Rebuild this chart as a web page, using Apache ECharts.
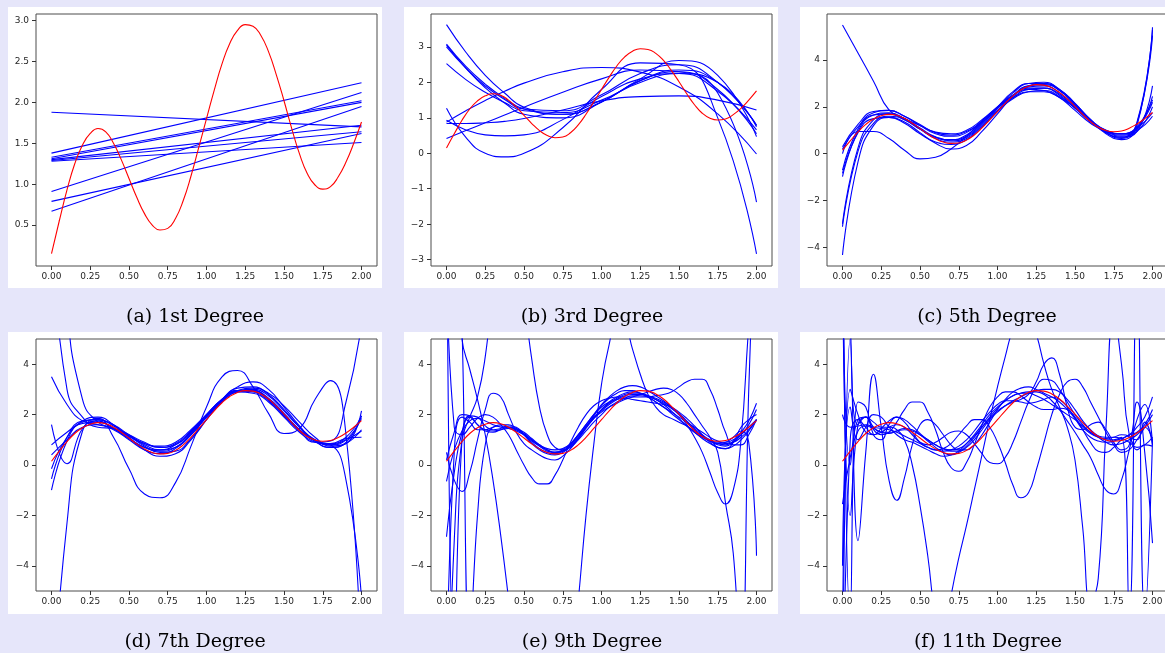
<!DOCTYPE html>
<html><head><meta charset="utf-8">
<script src="https://cdn.jsdelivr.net/npm/echarts@6/dist/echarts.min.js"></script>
<style>html,body{margin:0;padding:0;background:#e6e6fa}#c{width:1165px;height:653px}</style>
</head><body><div id="c"></div>
<script>
// ---------- data ----------
const captions = ['(a) 1st Degree','(b) 3rd Degree','(c) 5th Degree','(d) 7th Degree','(e) 9th Degree','(f) 11th Degree'];
const xTicks = [0,0.25,0.5,0.75,1,1.25,1.5,1.75,2];
const yTicksA = [0.5,1,1.5,2,2.5,3];
const yTicksB = [-3,-2,-1,0,1,2,3];
const yTicksC = [-4,-2,0,2,4];
const yTicksDEF = [-4,-2,0,2,4];

// true function (red)
const xRed = [0,0.05,0.1,0.15,0.2,0.25,0.3,0.35,0.4,0.45,0.5,0.55,0.6,0.65,0.7,0.75,0.8,0.85,0.9,0.95,1,1.05,1.1,1.15,1.2,1.25,1.3,1.35,1.4,1.45,1.5,1.55,1.6,1.65,1.7,1.75,1.8,1.85,1.9,1.95,2];
const red = [0.15,0.55,0.93,1.25,1.48,1.62,1.68,1.64,1.5,1.3,1.07,0.84,0.64,0.5,0.44,0.46,0.58,0.8,1.1,1.45,1.8,2.15,2.47,2.72,2.88,2.95,2.93,2.82,2.62,2.34,2.02,1.68,1.37,1.13,0.99,0.94,0.97,1.09,1.27,1.5,1.76];

// (a) 1st degree fits: values at x=0 and x=2
const xA = [0,2];
const fitsA = [[1.88,1.70],[1.38,2.24],[0.91,2.12],[0.79,1.62],[0.67,1.95],[1.33,2.02],[1.31,2.00],[1.30,1.72],[1.29,1.64],[1.28,1.51]];

// (b) 3rd degree fits
const xB = [0,0.125,0.25,0.375,0.5,0.75,1,1.25,1.5,1.75,2];
const fitsB = [
 [1.27,0.45,0.0,-0.1,0.0,0.72,1.8,2.55,2.5,1.0,-2.84],
 [0.88,1.2,1.49,1.75,1.98,2.30,2.42,2.29,1.87,1.11,-0.02],
 [0.84,0.84,0.86,0.9,0.98,1.22,1.48,1.6,1.62,1.5,1.22],
 [0.93,0.66,0.52,0.49,0.52,0.95,1.6,2.1,2.25,1.75,0.66],
 [0.42,0.64,0.86,1.08,1.3,1.72,2.1,2.35,2.3,1.7,-1.38],
 [3.63,2.85,2.2,1.7,1.3,1.1,1.45,2.1,2.62,2.2,0.47],
 [3.08,2.45,1.95,1.55,1.25,1.1,1.45,2.05,2.35,2.0,0.78],
 [3.05,2.4,1.85,1.42,1.1,1.0,1.45,2.05,2.3,1.8,0.55],
 [3.0,2.4,1.9,1.52,1.25,1.2,1.65,2.25,2.5,2.0,0.8],
 [2.53,2.08,1.72,1.43,1.2,1.15,1.5,2.0,2.25,2.0,0.75]
];

// (c) 5th and (d) 7th degree fits
const xCD = [0,0.1,0.2,0.3,0.4,0.5,0.6,0.7,0.8,0.9,1,1.1,1.2,1.3,1.4,1.5,1.6,1.7,1.8,1.9,2];
const fitsC = [
 [5.5,4.3,3.1,1.87,1.5,1.2,0.9,0.8,0.95,1.35,1.85,2.35,2.65,2.7,2.45,1.95,1.4,1.0,0.85,1.0,1.6],
 [0.3,1.25,1.8,1.85,1.6,1.25,0.92,0.85,1.0,1.45,2.0,2.5,2.8,2.8,2.5,1.95,1.35,0.95,0.85,1.15,2.3],
 [0.2,1.15,1.65,1.7,1.45,1.05,0.7,0.6,0.8,1.35,1.95,2.5,2.85,2.9,2.6,2.05,1.45,1.0,0.85,1.1,2.2],
 [0.0,0.95,0.95,0.65,0.15,-0.22,-0.15,0.2,0.75,1.4,1.95,2.4,2.65,2.65,2.4,1.95,1.4,0.95,0.75,0.95,2.0],
 [-0.84,0.9,1.5,1.55,1.3,0.85,0.5,0.4,0.6,1.15,1.8,2.4,2.75,2.8,2.55,2.0,1.4,0.95,0.8,1.05,2.45],
 [-0.98,0.95,1.65,1.75,1.5,1.05,0.65,0.5,0.65,1.2,1.85,2.5,2.9,2.95,2.7,2.1,1.45,0.9,0.7,0.95,2.9],
 [-3.12,0.1,1.3,1.6,1.45,1.05,0.7,0.55,0.7,1.25,1.95,2.6,3.0,3.05,2.75,2.15,1.45,0.9,0.65,1.3,5.05],
 [-3.0,0.25,1.45,1.7,1.5,1.1,0.72,0.6,0.75,1.3,2.0,2.65,3.0,3.0,2.7,2.1,1.4,0.9,0.7,1.35,5.3],
 [-4.33,-0.35,1.2,1.55,1.35,0.9,0.45,0.2,0.35,0.95,1.7,2.45,2.9,3.0,2.75,2.15,1.45,0.85,0.6,1.2,5.4],
 [-0.7,1.05,1.75,1.85,1.6,1.2,0.85,0.75,0.9,1.4,2.0,2.5,2.75,2.7,2.4,1.85,1.3,0.95,0.85,1.1,1.75]
];
const fitsD = [
 [3.5,2.4,1.75,1.6,1.45,1.15,0.8,0.6,0.7,1.2,1.9,2.55,2.95,2.95,2.6,2.0,1.4,1.0,0.85,1.1,1.95],
 [1.6,0.05,1.45,1.85,1.1,-0.15,-1.15,-1.3,-0.7,0.75,2.3,3.5,3.75,3.1,2.05,1.25,1.45,2.6,3.35,1.2,-8],
 [0.8,1.3,1.7,1.8,1.6,1.2,0.85,0.75,0.9,1.4,2.0,2.55,2.9,2.95,2.65,2.05,1.4,0.95,0.8,1.0,1.35],
 [0.4,1.0,1.5,1.6,1.4,1.0,0.6,0.45,0.65,1.2,1.9,2.55,2.95,3.0,2.75,2.15,1.5,1.0,0.8,1.0,1.85],
 [-0.15,1.1,1.65,1.7,1.45,1.05,0.7,0.55,0.7,1.25,1.95,2.6,3.05,3.1,2.8,2.2,1.5,0.95,0.7,0.9,1.95],
 [-0.55,1.1,1.75,1.8,1.55,1.15,0.75,0.5,0.55,1.05,1.8,2.5,2.95,3.05,2.85,2.35,1.7,1.1,0.75,0.85,2.15],
 [-1.0,0.95,1.75,1.9,1.6,1.1,0.6,0.35,0.45,1.0,1.8,2.6,3.1,3.3,3.0,2.3,1.55,0.95,0.7,0.85,1.4],
 [9,3.0,1.9,1.5,1.45,1.2,0.9,0.7,0.8,1.3,1.95,2.6,2.95,2.95,2.6,2.0,1.4,0.95,0.85,1.05,1.1],
 [20,6.5,2.6,1.7,1.45,1.15,0.85,0.7,0.85,1.35,2.0,2.6,2.9,2.85,2.5,1.9,1.3,0.9,0.8,-0.6,-5.3],
 [-10,-2.3,1.35,1.75,1.45,1.05,0.7,0.6,0.8,1.3,2.0,2.6,2.95,2.9,2.55,1.95,1.35,0.9,0.95,2.5,5.6]
];

// (e) 9th and (f) 11th degree fits
const xEF = [0,0.05,0.1,0.15,0.2,0.25,0.3,0.35,0.4,0.45,0.5,0.55,0.6,0.65,0.7,0.75,0.8,0.85,0.9,0.95,1,1.05,1.1,1.15,1.2,1.25,1.3,1.35,1.4,1.45,1.5,1.55,1.6,1.65,1.7,1.75,1.8,1.85,1.9,1.95,2];
const fitsE = [
 [-2.85,-0.3,1.3,1.95,1.9,1.55,1.4,1.45,1.55,1.5,1.2,0.85,0.6,0.45,0.4,0.5,0.75,1.1,1.5,1.85,2.15,2.4,2.6,2.75,2.8,2.8,2.75,2.65,2.5,2.3,2.05,1.75,1.45,1.2,1.0,0.9,0.9,1.0,1.2,1.5,1.8],
 [-0.65,0.6,1.35,1.75,1.85,1.75,1.6,1.5,1.45,1.35,1.2,1.0,0.8,0.65,0.6,0.65,0.85,1.2,1.55,1.9,2.2,2.45,2.65,2.8,2.85,2.85,2.75,2.6,2.4,2.15,1.85,1.55,1.3,1.1,0.95,0.85,0.8,0.95,1.3,1.75,2.45],
 [12,-8,1.0,1.9,1.6,1.35,1.3,1.4,1.5,1.45,1.3,1.05,0.8,0.6,0.5,0.55,0.75,1.05,1.45,1.85,2.2,2.5,2.7,2.85,2.9,2.85,2.7,2.5,2.3,2.1,1.9,1.7,1.5,1.3,1.1,0.95,0.85,0.9,1.1,1.4,1.8],
 [20,10,5,3.8,2.6,1.2,-0.6,-2.8,-5.3,-8,-10.5,-12,-13,-13,-12,-10.5,-8.5,-5.4,-2.0,0.8,3.2,4.8,5.8,5.6,4.6,3.6,2.8,2.3,2.0,1.85,1.7,1.55,1.35,1.15,0.95,0.8,0.75,0.9,1.2,1.6,2.2],
 [-12,-3,1.0,1.9,2.7,4.3,7,9,9.5,8.5,6.5,4.2,2.3,1.2,0.7,0.6,0.8,1.2,1.6,2.0,2.3,2.5,2.6,2.65,2.6,2.55,2.5,2.45,2.4,2.3,2.1,1.85,1.55,1.2,0.9,0.7,0.65,0.9,1.5,1.8,2.0],
 [8,1.5,1.2,1.5,1.85,2.0,1.9,1.6,1.2,0.6,0.0,-0.5,-0.75,-0.75,-0.4,0.2,0.9,1.5,2.0,2.35,2.55,2.65,2.7,2.7,2.7,2.7,2.7,2.75,2.8,2.9,3.1,3.3,3.4,3.4,3.0,2.2,1.3,0.8,0.8,1.2,1.8],
 [0.5,-0.6,-1.05,-0.3,1.0,2.2,2.85,2.7,2.0,1.3,0.85,0.6,0.4,0.25,0.2,0.35,0.65,1.05,1.5,1.95,2.35,2.65,2.85,2.95,2.95,2.85,2.7,2.5,2.3,2.05,1.8,1.55,1.3,1.05,0.85,0.7,0.65,0.75,1.0,1.35,1.8],
 [30,15,5.5,-7,-2,0.8,1.5,1.55,1.5,1.4,1.2,0.95,0.75,0.6,0.5,0.55,0.7,1.0,1.35,1.7,2.0,2.3,2.5,2.65,2.75,2.75,2.7,2.6,2.45,2.25,2.0,1.7,1.4,1.15,0.95,0.85,0.9,1.1,1.35,0.9,-3.6],
 [-9,0.5,1.9,1.7,1.4,1.4,1.5,1.6,1.6,1.45,1.2,0.9,0.65,0.5,0.45,0.55,0.8,1.15,1.5,1.85,2.1,2.3,2.45,2.6,2.7,2.8,2.9,3.0,3.05,3.0,2.8,2.45,2.0,1.55,1.1,0.5,-1.5,-3.5,-8,3,12],
 [0.2,1.3,2.0,1.95,1.6,1.4,1.35,1.4,1.45,1.4,1.25,1.0,0.75,0.55,0.5,0.6,0.85,1.2,1.6,2.0,2.4,2.7,2.95,3.1,3.15,3.1,2.95,2.75,2.55,2.3,2.0,1.6,1.1,0.5,-0.3,-1.1,-1.55,-1.0,1.0,5.5,9]
];
const fitsF = [
 [-1.55,0.3,1.35,1.55,1.45,1.3,1.25,1.35,1.45,1.4,1.2,0.95,0.7,0.5,0.4,0.5,0.75,1.1,1.5,1.9,2.25,2.55,2.75,2.85,2.85,2.75,2.6,2.4,2.2,2.0,1.8,1.55,1.3,1.1,0.9,0.8,0.85,1.0,1.2,1.5,1.0],
 [12,-6,2.5,2.3,1.2,1.0,1.6,1.9,1.7,1.3,0.9,0.7,0.6,0.55,0.6,0.75,1.0,1.35,1.75,2.1,2.4,2.55,2.55,2.5,2.45,2.5,2.6,2.7,2.6,2.3,1.85,1.4,1.1,0.95,0.9,0.95,1.05,1.2,1.5,1.9,2.7],
 [-10,5,-3,0.5,3.6,1.5,-0.6,-1.4,-0.5,0.8,1.6,1.8,1.6,1.2,0.8,0.6,0.6,0.8,1.2,1.7,2.2,2.6,2.9,3.05,3.1,3.0,2.85,2.7,2.5,2.2,1.85,1.5,1.25,1.1,1.05,1.1,1.2,1.1,0.6,0.8,0.75],
 [8,-2,1.6,1.9,1.4,1.2,1.3,1.7,2.2,2.5,2.5,2.1,1.4,0.5,-0.1,-0.25,0.1,0.8,1.6,2.3,2.7,2.9,2.9,2.75,2.5,2.3,2.2,2.2,2.25,2.2,1.9,1.4,0.9,0.55,0.5,0.7,1.0,1.2,1.3,1.6,2.2],
 [-12,1,1.8,1.5,1.2,1.3,1.5,1.6,1.5,1.2,0.9,0.8,0.9,1.1,1.3,1.35,1.2,0.85,0.45,0.1,0.05,0.3,0.9,1.7,2.5,3.1,3.4,3.35,3.0,2.5,2.0,1.6,1.3,1.15,1.1,1.1,1.05,0.9,0.7,0.8,1.1],
 [2,1.5,1.55,1.6,1.5,1.45,1.4,1.3,1.15,1.0,0.85,0.7,0.6,0.65,0.85,1.2,1.55,1.8,1.8,1.5,0.9,0.1,-0.8,-1.3,-1.1,-0.2,0.9,2.0,2.8,3.3,3.4,3.1,2.5,1.9,1.3,0.8,0.5,0.6,1.0,1.5,2.0],
 [20,6,1.6,1.9,1.7,1.5,1.5,1.4,1.0,0.0,-1.6,-3.6,-6,-7,-5.2,-3.7,-2.4,-1.0,0.4,1.8,3.1,4.3,5.4,6.0,6.0,5.2,4.0,3.0,2.3,1.5,0.2,-2.5,-5.5,-4.5,1.5,6,4,1.2,1.0,1.7,0.8],
 [-8,3,2.0,1.3,1.2,1.45,1.75,1.9,1.8,1.55,1.25,1.0,0.8,0.65,0.6,0.65,0.85,1.15,1.5,1.85,2.15,2.35,2.5,2.6,2.8,3.3,4.0,4.25,3.6,2.3,1.5,1.4,1.6,1.7,1.4,0.9,0.6,0.8,2.5,0.5,-3.1],
 [-4,2.3,1.0,1.5,2.0,1.9,1.5,1.2,1.0,0.9,0.75,0.6,0.45,0.35,0.4,0.55,0.85,1.2,1.6,2.0,2.3,2.55,2.75,2.85,2.9,2.9,2.8,2.55,2.2,1.75,1.3,0.8,0.3,-0.4,-1.0,-1.15,-0.6,0.6,1.8,2.4,0.8],
 [9,0,1.8,1.9,1.5,1.3,1.3,1.35,1.4,1.35,1.2,1.0,0.8,0.65,0.55,0.55,0.7,1.0,1.4,1.8,2.1,2.35,2.55,2.7,2.85,2.95,3.0,3.0,2.9,2.6,2.2,1.75,1.4,1.15,1.0,1.0,1.1,-6,8,-6,1.0]
];

// ---------- layout ----------
const panels = [
  {left:36,  top:14,  yMin:0.0,   yMax:3.08, ticks:yTicksA,  dec:1, xs:xA,  fits:fitsA, smooth:false},
  {left:431, top:14,  yMin:-3.18, yMax:3.93, ticks:yTicksB,  dec:0, xs:xB,  fits:fitsB, smooth:true},
  {left:827, top:14,  yMin:-4.8,  yMax:5.97, ticks:yTicksC,  dec:0, xs:xCD, fits:fitsC, smooth:true},
  {left:36,  top:339, yMin:-5,    yMax:5,    ticks:yTicksDEF,dec:0, xs:xCD, fits:fitsD, smooth:true},
  {left:431, top:339, yMin:-5,    yMax:5,    ticks:yTicksDEF,dec:0, xs:xEF, fits:fitsE, smooth:true},
  {left:827, top:339, yMin:-5,    yMax:5,    ticks:yTicksDEF,dec:0, xs:xEF, fits:fitsF, smooth:true}
];
const whiteBoxes = [[8,7,374,281],[404,7,374,281],[800,7,370,281],[8,332,374,282],[404,332,374,282],[800,332,370,282]];
const capPos = [[195,317],[592,317],[987,317],[195,642],[592,642],[988,642]];

const fmtNum = (v, dec) => (dec ? v.toFixed(dec) : String(Math.round(v))).replace('-', '\u2212');
const labelStyle = {fontSize:9, color:'#262626', fontFamily:'DejaVu Sans'};

const grids = [], xAxes = [], yAxes = [], series = [];
panels.forEach((p, i) => {
  grids.push({left:p.left, top:p.top, width:341, height:252, show:true, borderColor:'#4d4d4d', borderWidth:1,
              backgroundColor:'transparent', containLabel:false, outerBoundsMode:'none'});
  xAxes.push({gridIndex:i, type:'value', min:-0.1, max:2.1, position:'bottom',
    axisLine:{show:false, onZero:false}, splitLine:{show:false},
    axisTick:{show:true, inside:false, length:4, lineStyle:{color:'#333'}, customValues:xTicks},
    axisLabel:Object.assign({show:true, margin:6, customValues:xTicks, formatter:v=>v.toFixed(2)}, labelStyle)});
  yAxes.push({gridIndex:i, type:'value', min:p.yMin, max:p.yMax, position:'left',
    axisLine:{show:false, onZero:false}, splitLine:{show:false},
    axisTick:{show:true, inside:false, length:4, lineStyle:{color:'#333'}, customValues:p.ticks},
    axisLabel:Object.assign({show:true, margin:7, customValues:p.ticks, formatter:v=>fmtNum(v, p.dec)}, labelStyle)});
  p.fits.forEach(ys => {
    series.push({type:'line', xAxisIndex:i, yAxisIndex:i, data:p.xs.map((x,k)=>[x, ys[k]]),
      showSymbol:false, symbol:'none', smooth:p.smooth, clip:true, silent:true, animation:false, z:2,
      lineStyle:{width:1.1, color:'#0000ff'}, itemStyle:{color:'#0000ff'}, emphasis:{disabled:true}});
  });
  series.push({type:'line', xAxisIndex:i, yAxisIndex:i, data:xRed.map((x,k)=>[x, red[k]]),
    showSymbol:false, symbol:'none', smooth:true, clip:true, silent:true, animation:false, z:3,
    lineStyle:{width:1.1, color:'#ff0000'}, itemStyle:{color:'#ff0000'}, emphasis:{disabled:true}});
});

const graphics = [];
whiteBoxes.forEach(b => graphics.push({type:'rect', silent:true, z:-10,
  shape:{x:b[0], y:b[1], width:b[2], height:b[3]}, style:{fill:'#ffffff'}}));
captions.forEach((t, i) => graphics.push({type:'text', silent:true, z:5,
  x:capPos[i][0], y:capPos[i][1],
  style:{text:t, textAlign:'center', textVerticalAlign:'middle', font:'19px "DejaVu Serif"', fill:'#000'}}));

const chart = echarts.init(document.getElementById('c'), null, {renderer:'canvas', width:1165, height:653});
chart.setOption({
  backgroundColor:'#e6e6fa',
  animation:false,
  graphic:{elements:graphics},
  grid:grids, xAxis:xAxes, yAxis:yAxes, series:series
});
</script>
</body></html>
